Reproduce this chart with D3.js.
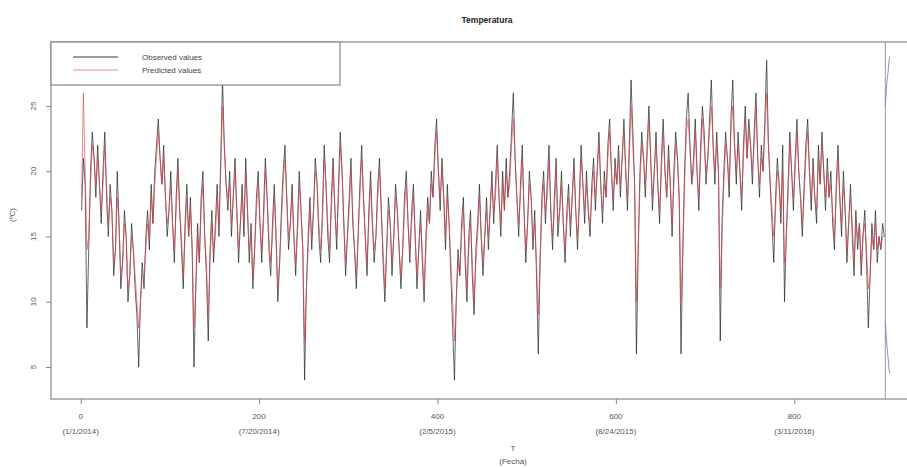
<!DOCTYPE html>
<html>
<head>
<meta charset="utf-8">
<script src="https://cdn.jsdelivr.net/npm/d3@7"></script>
<style>
  body { margin: 0; background: #fff; }
  text { font-family: "Liberation Sans", Arial, sans-serif; }
</style>
</head>
<body>
<svg id="chart"></svg>
<script>
// observed / predicted temperature, one value every 2 days starting at day 1
var firstDay = 1;
var dayStep = 2;
var observed = [
  17, 21, 19, 8, 14, 20, 23, 21, 18, 22, 19, 16, 20, 23, 18,
  15, 19, 17, 12, 14, 20, 16, 11, 13, 17, 15, 10, 12, 16, 14,
  11, 9, 5, 10, 13, 11, 15, 17, 14, 19, 16, 20, 22, 24, 21,
  19, 22, 18, 15, 17, 20, 16, 13, 18, 21, 17, 14, 11, 16, 19,
  15, 18, 14, 5, 11, 16, 13, 18, 20, 15, 12, 7, 14, 17, 13,
  16, 19, 15, 21, 27, 22, 19, 17, 20, 15, 18, 21, 17, 13, 16,
  19, 15, 21, 17, 13, 16, 11, 14, 18, 20, 16, 13, 17, 21, 18,
  14, 12, 16, 19, 15, 10, 13, 17, 20, 22, 18, 14, 16, 19, 15,
  12, 16, 20, 17, 14, 4, 11, 15, 18, 14, 17, 21, 19, 15, 13,
  17, 22, 19, 15, 13, 18, 21, 17, 14, 19, 23, 20, 16, 12, 15,
  18, 21, 16, 14, 11, 15, 19, 22, 18, 15, 12, 17, 20, 16, 13,
  15, 19, 21, 17, 13, 10, 14, 18, 16, 12, 15, 19, 17, 14, 11,
  14, 18, 20, 16, 13, 17, 19, 15, 11, 14, 17, 13, 10, 15, 18,
  16, 20, 18, 22, 24, 20, 17, 21, 18, 14, 19, 16, 12, 8, 4,
  10, 14, 12, 16, 18, 13, 10, 15, 17, 12, 9, 14, 16, 19, 15,
  12, 15, 18, 14, 17, 20, 16, 19, 22, 18, 15, 20, 17, 21, 18,
  20, 23, 26, 21, 18, 15, 19, 22, 17, 13, 16, 20, 18, 14, 17,
  12, 6, 13, 18, 20, 16, 19, 22, 17, 14, 18, 21, 15, 17, 20,
  16, 13, 17, 19, 15, 18, 21, 17, 14, 18, 22, 19, 16, 20, 17,
  15, 19, 21, 17, 20, 23, 19, 16, 20, 18, 22, 24, 20, 17, 21,
  19, 22, 18, 21, 24, 20, 17, 22, 27, 23, 19, 6, 14, 20, 23,
  21, 18, 22, 25, 21, 17, 20, 23, 19, 16, 21, 24, 20, 18, 22,
  19, 15, 20, 23, 21, 18, 6, 14, 20, 24, 26, 22, 19, 21, 24,
  20, 17, 22, 25, 23, 19, 21, 24, 27, 22, 19, 23, 20, 7, 16,
  20, 23, 21, 18, 24, 27, 22, 19, 23, 20, 17, 22, 25, 21, 24,
  22, 19, 23, 26, 21, 18, 22, 20, 24, 28.5, 22, 19, 16, 13, 18,
  21, 19, 16, 22, 10, 15, 19, 23, 20, 17, 21, 24, 20, 18, 15,
  19, 22, 24, 20, 17, 21, 18, 16, 22, 19, 23, 20, 17, 21, 18,
  20, 16, 14, 19, 22, 18, 15, 20, 17, 13, 16, 19, 15, 12, 17,
  14, 16, 12, 15, 17, 13, 8, 12, 16, 14, 17, 13, 15, 14, 16,
  15
];
var predicted = [
  18, 26, 20, 14, 15, 19, 22, 21, 19, 21, 19, 17, 19, 22, 19,
  16, 18, 17, 13, 14, 18, 16, 12, 13, 16, 15, 11, 12, 15, 14,
  12, 10, 8, 10, 12, 12, 14, 16, 15, 18, 16, 19, 21, 23, 21,
  19, 21, 18, 16, 17, 19, 16, 14, 17, 20, 17, 15, 12, 15, 18,
  15, 17, 14, 8, 11, 15, 13, 17, 19, 15, 13, 9, 13, 16, 14,
  15, 18, 16, 20, 25, 22, 19, 18, 19, 16, 18, 20, 17, 14, 16,
  18, 16, 20, 17, 14, 15, 12, 14, 17, 19, 16, 14, 16, 20, 18,
  15, 13, 15, 18, 15, 11, 13, 16, 19, 21, 18, 15, 16, 18, 15,
  13, 15, 19, 17, 14, 7, 11, 14, 17, 15, 17, 20, 19, 16, 14,
  16, 21, 19, 16, 14, 17, 20, 17, 15, 18, 22, 20, 16, 13, 15,
  17, 20, 17, 14, 12, 15, 18, 21, 18, 15, 13, 16, 19, 16, 14,
  15, 18, 20, 17, 14, 11, 14, 17, 16, 13, 15, 18, 17, 14, 12,
  14, 17, 19, 16, 14, 16, 18, 15, 12, 14, 16, 14, 11, 14, 17,
  16, 19, 18, 21, 23, 20, 18, 20, 18, 15, 18, 16, 13, 10, 7,
  10, 13, 12, 15, 17, 14, 11, 14, 16, 13, 10, 13, 15, 18, 15,
  13, 15, 17, 15, 17, 19, 17, 18, 21, 18, 16, 19, 17, 20, 18,
  19, 22, 24, 21, 18, 16, 18, 21, 17, 14, 16, 19, 18, 15, 16,
  13, 9, 13, 17, 19, 17, 18, 21, 17, 15, 17, 20, 16, 17, 19,
  16, 14, 16, 18, 16, 18, 20, 17, 15, 17, 21, 19, 17, 19, 17,
  16, 18, 20, 18, 20, 22, 19, 17, 19, 18, 21, 23, 20, 18, 20,
  19, 21, 19, 21, 23, 20, 18, 21, 25, 22, 19, 10, 14, 19, 22,
  21, 19, 21, 24, 21, 18, 20, 22, 19, 17, 20, 23, 20, 18, 21,
  19, 16, 19, 22, 21, 18, 10, 14, 19, 23, 24, 22, 19, 20, 23,
  20, 18, 21, 24, 22, 20, 21, 23, 25, 22, 20, 22, 20, 11, 15,
  19, 22, 21, 19, 23, 25, 22, 20, 22, 20, 18, 21, 24, 21, 23,
  22, 20, 22, 25, 21, 19, 21, 20, 23, 26, 22, 19, 17, 15, 17,
  20, 19, 17, 20, 13, 15, 18, 22, 20, 18, 20, 23, 20, 18, 16,
  18, 21, 23, 20, 18, 20, 18, 17, 21, 19, 22, 20, 18, 20, 18,
  19, 17, 15, 18, 21, 18, 16, 19, 17, 14, 16, 18, 16, 13, 16,
  15, 16, 13, 15, 16, 14, 11, 12, 15, 14, 16, 14, 15, 14, 15,
  15
];
// forecast interval after the cut line
var cutDay = 902;
var forecastDays = [902, 903, 904, 905, 906, 907];
var forecastUpper = [25, 26, 27, 27.5, 28.3, 28.8];
var forecastLower = [8.5, 7.5, 6.5, 5.8, 5, 4.5];

var xTicks = [0, 200, 400, 600, 800];
var xTickDates = ['(1/1/2014)', '(7/20/2014)', '(2/5/2015)', '(8/24/2015)', '(3/11/2016)'];
var yTicks = [5, 10, 15, 20, 25];
var legendLabels = ['Observed values', 'Predicted values'];

var width = 907, height = 468;
var box = { left: 51, top: 42, right: 980, bottom: 399 };

var svg = d3.select('#chart')
    .attr('width', width)
    .attr('height', height);

var x = d3.scaleLinear().domain([0, 800]).range([80.7, 794.3]);
var y = d3.scaleLinear().domain([5, 25]).range([367, 106]);

var obsPts = observed.map(function (v, i) { return [firstDay + i * dayStep, v]; });
var predPts = predicted.map(function (v, i) { return [firstDay + i * dayStep, v]; });

var line = d3.line()
    .x(function (d) { return x(d[0]); })
    .y(function (d) { return y(d[1]); });

svg.append('path')
    .attr('d', line(obsPts))
    .attr('fill', 'none')
    .attr('stroke', '#222')
    .attr('stroke-width', 0.7);

svg.append('path')
    .attr('d', line(predPts))
    .attr('fill', 'none')
    .attr('stroke', '#e0404a')
    .attr('stroke-opacity', 0.7)
    .attr('stroke-width', 0.9);

// cut line and forecast bounds
svg.append('line')
    .attr('x1', x(cutDay)).attr('x2', x(cutDay))
    .attr('y1', box.top).attr('y2', box.bottom)
    .attr('stroke', '#999').attr('stroke-width', 1);

[forecastUpper, forecastLower].forEach(function (arr) {
    svg.append('path')
        .attr('d', line(arr.map(function (v, i) { return [forecastDays[i], v]; })))
        .attr('fill', 'none')
        .attr('stroke', '#7c82d8')
        .attr('stroke-width', 0.9);
});

// plot box
svg.append('rect')
    .attr('x', box.left).attr('y', box.top)
    .attr('width', box.right - box.left).attr('height', box.bottom - box.top)
    .attr('fill', 'none').attr('stroke', '#888').attr('stroke-width', 1.2);

// x axis
var xAxis = svg.append('g').attr('transform', 'translate(0,' + box.bottom + ')')
    .call(d3.axisBottom(x).tickValues(xTicks).tickSize(5).tickFormat(''));
xAxis.select('.domain').remove();
xAxis.selectAll('line').attr('stroke', '#888');

var xl = svg.append('g').selectAll('g').data(xTicks).enter().append('g');
xl.append('text')
    .attr('x', function (d) { return x(d); }).attr('y', 419)
    .attr('text-anchor', 'middle').attr('font-size', 8).attr('fill', '#555')
    .text(function (d) { return d; });
xl.append('text')
    .attr('x', function (d) { return x(d); }).attr('y', 434)
    .attr('text-anchor', 'middle').attr('font-size', 8).attr('fill', '#555')
    .text(function (d, i) { return xTickDates[i]; });

// y axis
var yAxis = svg.append('g').attr('transform', 'translate(' + box.left + ',0)')
    .call(d3.axisLeft(y).tickValues(yTicks).tickSize(5).tickFormat(''));
yAxis.select('.domain').remove();
yAxis.selectAll('line').attr('stroke', '#888');

svg.append('g').selectAll('text').data(yTicks).enter().append('text')
    .attr('transform', function (d) { return 'translate(36,' + y(d) + ') rotate(-90)'; })
    .attr('text-anchor', 'middle').attr('font-size', 8).attr('fill', '#555')
    .text(function (d) { return d; });

// titles
svg.append('text').attr('x', 487).attr('y', 23)
    .attr('text-anchor', 'middle').attr('font-size', 8.5).attr('font-weight', 'bold')
    .attr('fill', '#222').text('Temperatura');
svg.append('text').attr('x', 513).attr('y', 451)
    .attr('text-anchor', 'middle').attr('font-size', 8).attr('fill', '#555').text('T');
svg.append('text').attr('x', 513).attr('y', 464)
    .attr('text-anchor', 'middle').attr('font-size', 8).attr('fill', '#555').text('(Fecha)');
svg.append('text').attr('transform', 'translate(15,215) rotate(-90)')
    .attr('text-anchor', 'middle').attr('font-size', 8).attr('fill', '#555').text('(ºC)');

// legend
var lg = svg.append('g');
lg.append('rect').attr('x', box.left).attr('y', box.top)
    .attr('width', 289).attr('height', 43)
    .attr('fill', '#fff').attr('stroke', '#888').attr('stroke-width', 1.2);
var legendColors = ['#222', '#e0404a'];
legendLabels.forEach(function (lab, i) {
    var ly = 57 + i * 13;
    lg.append('line').attr('x1', 73).attr('x2', 118).attr('y1', ly).attr('y2', ly)
        .attr('stroke', legendColors[i]).attr('stroke-width', 0.9)
        .attr('stroke-opacity', i ? 0.7 : 1);
    lg.append('text').attr('x', 142).attr('y', ly + 3).attr('font-size', 8)
        .attr('fill', '#444').text(lab);
});
</script>
</body>
</html>
